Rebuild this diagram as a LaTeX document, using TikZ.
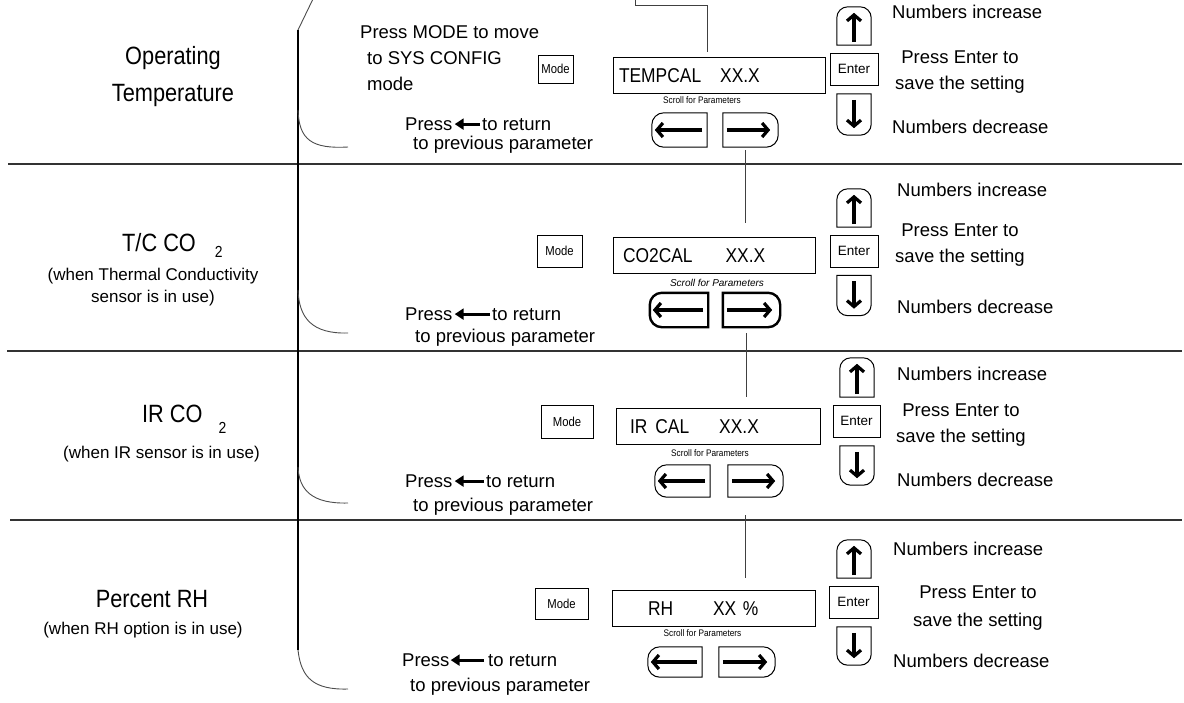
\documentclass[tikz,border=0pt]{standalone}
\usepackage{fontspec}
\setmainfont{Liberation Sans}
\newfontfamily\narrowf{Liberation Sans}[FakeStretch=0.87]
\usetikzlibrary{arrows.meta}
\newcommand\fs[2]{\fontsize{#1pt}{#2pt}\selectfont}
\newcommand\LBtn[2]{%
  \draw[#2] (#1.north east) [rounded corners=12pt] -- (#1.north west) -- (#1.south west) [sharp corners] -- (#1.south east) -- cycle;
  \draw[barrow] ([xshift=-5pt]#1.east) -- ([xshift=3pt]#1.west);}
\newcommand\RBtn[2]{%
  \draw[#2] (#1.north west) [rounded corners=12pt] -- (#1.north east) -- (#1.south east) [sharp corners] -- (#1.south west) -- cycle;
  \draw[barrow] ([xshift=4pt]#1.west) -- ([xshift=-8pt]#1.east);}
\newcommand\UBtn[1]{%
  \draw[bout] (#1.south west) [rounded corners=11pt] -- (#1.north west) -- (#1.north east) [sharp corners] -- (#1.south east) -- cycle;
  \draw[barrow] ([yshift=3pt]#1.south) -- ([yshift=-6pt]#1.north);}
\newcommand\DBtn[1]{%
  \draw[bout] (#1.north west) [rounded corners=11pt] -- (#1.south west) -- (#1.south east) [sharp corners] -- (#1.north east) -- cycle;
  \draw[barrow] ([yshift=-6pt]#1.north) -- ([yshift=7pt]#1.south);}
\begin{document}
\begin{tikzpicture}[x=1pt,y=-1pt,
  txt/.style={inner sep=0pt, font=\fs{18.5}{22}},
  big/.style={inner sep=0pt, font=\narrowf\fs{25}{37}},
  sub/.style={inner sep=0pt, align=center, font=\fs{17}{22}},
  modebox/.style={draw, line width=0.9pt, inner sep=0pt, font=\narrowf\fs{13}{13}},
  enterbox/.style={draw, line width=0.9pt, inner sep=0pt, font=\fs{13.5}{13.5}},
  disp/.style={draw, line width=1pt, inner ysep=0pt, minimum height=36pt, align=left, text height=14.5pt, text depth=0pt, font=\narrowf\fs{20}{20}},
  btn/.style={inner sep=0pt, draw=none, shape=rectangle},
  bout/.style={line width=1pt},
  bbold/.style={line width=2.4pt},
  barrow/.style={line width=3.2pt, -{Straight Barb[length=6pt,width=14pt,line width=3.2pt]}},
  iarrow/.style={line width=2.8pt, -{Triangle[length=9pt,width=11pt]}},
  conn/.style={line width=1pt, black!75},
  sepl/.style={line width=1.4pt, black!80},
  brk/.style={line width=1.5pt},
  brc/.style={line width=0.9pt, black!70},
  scroll/.style={inner sep=0pt, font=\narrowf\fs{9.5}{9.5}}
]
\fill[white] (0,0) rectangle (1184,702);
\useasboundingbox (0,0) rectangle (1184,702);

% separators
\draw[sepl] (8,164) -- (1182,164);
\draw[sepl] (7,351) -- (1182,351);
\draw[sepl] (10,520) -- (1182,520);

% left bracket
\draw[brc] (313,-1) -- (298,30);
\draw[brk] (298,30) -- (298,650);
\draw[brc] (298,650) .. controls (301,678) and (314,690) .. (348,689);
\draw[brc] (298,110) .. controls (299,140) and (312,149) .. (348,147);
\draw[brc] (298,290) .. controls (299,318) and (312,334) .. (348,333);
\draw[brc] (298,467) .. controls (299,490) and (312,504) .. (348,503);

% section labels
\node[big, align=center] (op) at (173,77) {Operating\\Temperature};
\node[big, anchor=base west] (tcl) at (122,251) {T/C CO\hspace{19pt}\raisebox{-6pt}{\fs{16}{16}2}};
\node[sub] (tcs) at (153,287) {(when Thermal Conductivity\\sensor is in use)};
\node[big, anchor=base west] (irl) at (142,422) {IR CO\hspace{16pt}\raisebox{-11pt}{\fs{16}{16}2}};
\node[sub] (irs) at (161.5,454) {(when IR sensor is in use)};
\node[big, anchor=base] (rhl) at (152,607) {Percent RH};
\node[sub] (rhs) at (143,630.5) {(when RH option is in use)};

% mode instruction
\node[txt, anchor=north west, align=left, font=\fs{18.5}{26}] (pm) at (360,25) {Press MODE to move\\\hspace{7pt}to SYS CONFIG\\\hspace{7pt}mode};

% mode boxes
\node[modebox, minimum width=35pt, minimum height=28pt] (m1) at (555.5,69) {Mode};
\node[modebox, minimum width=45pt, minimum height=32pt] (m2) at (559.5,251) {Mode};
\node[modebox, minimum width=52pt, minimum height=33pt] (m3) at (567,421.5) {Mode};
\node[modebox, minimum width=53pt, minimum height=31pt] (m4) at (561.5,603.5) {Mode};

% displays
\node[disp, text width=200pt, inner xsep=6pt] (d1) at (719,75) {TEMPCAL\hspace{19pt}XX.X};
\node[disp, text width=182pt, inner xsep=10pt] (d2) at (714,255) {CO2CAL\hspace{33pt}XX.X};
\node[disp, text width=176pt, inner xsep=14pt] (d3) at (718,426.5) {IR\hspace{8pt}CAL\hspace{30pt}XX.X};
\node[disp, text width=131pt, inner xsep=36pt] (d4) at (713.5,608) {RH\hspace{40pt}XX \%};

% scroll labels
\node[scroll] (s1) at (702,100) {Scroll for Parameters};
\node[inner sep=0pt, font=\itshape\fs{10}{10}] (s2) at (717,283) {Scroll for Parameters};
\node[scroll] (s3) at (710,453) {Scroll for Parameters};
\node[scroll] (s4) at (702.5,633) {Scroll for Parameters};

% scroll buttons
\node[btn, minimum width=55pt, minimum height=34pt] (l1) at (679.5,130) {};
\node[btn, minimum width=55pt, minimum height=34pt] (r1) at (750.5,130) {};
\node[btn, minimum width=58pt, minimum height=34pt] (l2) at (679,310) {};
\node[btn, minimum width=57pt, minimum height=34pt] (r2) at (751.5,310) {};
\node[btn, minimum width=55pt, minimum height=32pt] (l3) at (682.5,481) {};
\node[btn, minimum width=55pt, minimum height=32pt] (r3) at (755.5,481) {};
\node[btn, minimum width=54pt, minimum height=30pt] (l4) at (675,662) {};
\node[btn, minimum width=56pt, minimum height=30pt] (r4) at (747,662) {};
\LBtn{l1}{bout}\RBtn{r1}{bout}
\LBtn{l2}{bbold}\RBtn{r2}{bbold}
\LBtn{l3}{bout}\RBtn{r3}{bout}
\LBtn{l4}{bout}\RBtn{r4}{bout}

% up / enter / down
\node[btn, minimum width=34pt, minimum height=38pt] (u1) at (854,26) {};
\node[enterbox, minimum width=48pt, minimum height=32pt] (e1) at (854,69) {Enter};
\node[btn, minimum width=34pt, minimum height=41pt] (n1) at (854,114.5) {};
\node[btn, minimum width=34pt, minimum height=38pt] (u2) at (854,208) {};
\node[enterbox, minimum width=48pt, minimum height=32pt] (e2) at (854,251) {Enter};
\node[btn, minimum width=34pt, minimum height=40pt] (n2) at (854,295.5) {};
\node[btn, minimum width=34pt, minimum height=39pt] (u3) at (857,377.5) {};
\node[enterbox, minimum width=47pt, minimum height=32pt] (e3) at (856.5,421) {Enter};
\node[btn, minimum width=34pt, minimum height=39pt] (n3) at (857,465.5) {};
\node[btn, minimum width=34pt, minimum height=38pt] (u4) at (854,559) {};
\node[enterbox, minimum width=49pt, minimum height=32pt] (e4) at (853.5,602) {Enter};
\node[btn, minimum width=34pt, minimum height=38pt] (n4) at (854,646) {};
\UBtn{u1}\DBtn{n1}\UBtn{u2}\DBtn{n2}\UBtn{u3}\DBtn{n3}\UBtn{u4}\DBtn{n4}

% right texts
\node[txt, anchor=base west] (ni1) at (892,18) {Numbers increase};
\node[txt, align=center, font=\fs{18.5}{26}] (pe1) at (960,72) {Press Enter to\\save the setting};
\node[txt, anchor=base west] (nd1) at (892,133) {Numbers decrease};
\node[txt, anchor=base west] (ni2) at (897,196) {Numbers increase};
\node[txt, align=center, font=\fs{18.5}{26}] (pe2) at (960,245.5) {Press Enter to\\save the setting};
\node[txt, anchor=base west] (nd2) at (897,313) {Numbers decrease};
\node[txt, anchor=base west] (ni3) at (897,380) {Numbers increase};
\node[txt, align=center, font=\fs{18.5}{26}] (pe3) at (961,425) {Press Enter to\\save the setting};
\node[txt, anchor=base west] (nd3) at (897,486) {Numbers decrease};
\node[txt, anchor=base west] (ni4) at (893,555) {Numbers increase};
\node[txt, align=center, font=\fs{18.5}{28}] (pe4) at (978,608) {Press Enter to\\save the setting};
\node[txt, anchor=base west] (nd4) at (893,667) {Numbers decrease};

% press <- to return
\node[txt, anchor=base west] (p1) at (405,130) {Press};
\node[txt, anchor=base west] (t1) at (482,130) {to return};
\node[txt, anchor=base west] (q1) at (413,149) {to previous parameter};
\node[txt, anchor=base west] (p2) at (405,320) {Press};
\node[txt, anchor=base west] (t2) at (492,320) {to return};
\node[txt, anchor=base west] (q2) at (415,342) {to previous parameter};
\node[txt, anchor=base west] (p3) at (405,487) {Press};
\node[txt, anchor=base west] (t3) at (486,487) {to return};
\node[txt, anchor=base west] (q3) at (413,511) {to previous parameter};
\node[txt, anchor=base west] (p4) at (402,666) {Press};
\node[txt, anchor=base west] (t4) at (488,666) {to return};
\node[txt, anchor=base west] (q4) at (410,691) {to previous parameter};
\draw[iarrow] ([xshift=-2pt]t1.west) -- ([xshift=2pt]p1.east |- t1.west);
\draw[iarrow] ([xshift=-2pt]t2.west) -- ([xshift=2pt]p2.east |- t2.west);
\draw[iarrow] ([xshift=-2pt]t3.west) -- ([xshift=2pt]p3.east |- t3.west);
\draw[iarrow] ([xshift=-4pt]t4.west) -- ([xshift=1pt]p4.east |- t4.west);

% connectors
\coordinate (topbend) at (635,5);
\coordinate (topend) at (635,-2);
\draw[conn] ([xshift=-12pt,yshift=5pt]d1.north) |- (topbend) -- (topend);
\draw[conn] ([xshift=-5.5pt,yshift=-3pt]r1.south) -- ++(0,73);
\draw[conn] ([xshift=-5.5pt,yshift=-6pt]r2.south) -- ++(0,64);
\draw[conn] ([xshift=-10.5pt,yshift=-18pt]r3.south) -- ++(0,63);
\end{tikzpicture}
\end{document}
